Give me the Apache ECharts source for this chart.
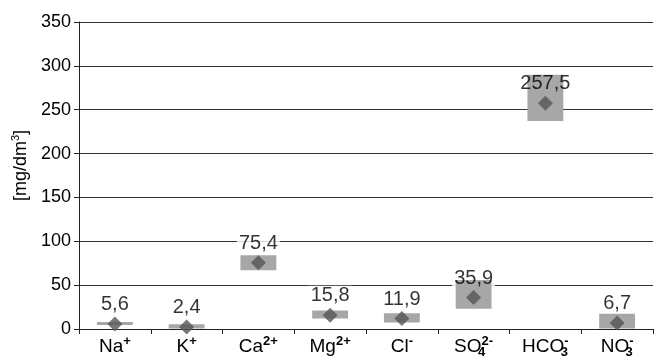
<!DOCTYPE html>
<html>
<head>
<meta charset="utf-8">
<script src="https://cdn.jsdelivr.net/npm/echarts@6/dist/echarts.min.js"></script>
<style>
  html, body { margin: 0; padding: 0; background: #fff; }
  #chart { width: 654px; height: 361px; }
</style>
</head>
<body>
<div id="chart"></div>
<script>
// Ion symbols: element part, subscript index, charge
const ionBase = ['Na', 'K', 'Ca', 'Mg', 'Cl', 'SO', 'HCO', 'NO'];
const ionIndex = ['', '', '', '', '', '4', '3', '3'];
const ionCharge = ['+', '+', '2+', '2+', '-', '2-', '-', '-'];

// Mean concentration [mg/dm3]
const meanValues = [5.6, 2.4, 75.4, 15.8, 11.9, 35.9, 257.5, 6.7];
// Observed range: minimum and maximum [mg/dm3]
const minValues = [4.5, 0.5, 67, 12, 7.5, 23, 237, 0.5];
const maxValues = [8, 5.5, 84, 21, 18, 56, 290, 17.5];

// Value axis scale
const yMin = 0;
const yMax = 350;
const yStep = 50;

const categories = ionBase.map((b, i) => b + ionIndex[i] + ionCharge[i]);
const fmtNum = v => String(v).replace('.', ',');

const FONT = '"Liberation Sans", Arial, sans-serif';
const BOX_COLOR = '#a7a7aa';
const MARK_COLOR = '#555555';

const labelCommon = {
  show: true,
  position: 'top',
  distance: 2,
  fontFamily: FONT,
  fontSize: 20,
  formatter: p => fmtNum(p.value[1])
};

const chart = echarts.init(document.getElementById('chart'), null, { renderer: 'canvas' });

chart.setOption({
  animation: false,
  backgroundColor: '#fff',
  grid: { left: 79, right: 1, top: 22, bottom: 32, containLabel: false },
  xAxis: {
    type: 'category',
    data: categories,
    boundaryGap: true,
    axisLine: { show: true, lineStyle: { color: '#222', width: 1 } },
    axisTick: { show: true, length: 5, interval: 0, alignWithLabel: false, lineStyle: { color: '#222' } },
    splitLine: { show: false },
    axisLabel: {
      interval: 0,
      margin: 6,
      color: '#000',
      fontFamily: FONT,
      formatter: (value, idx) => {
        let s = '{b|' + ionBase[idx] + '}';
        if (ionIndex[idx]) s += '{sub|' + ionIndex[idx] + '}';
        s += '{sup|' + ionCharge[idx] + '}';
        return s;
      },
      rich: {
        b: { fontSize: 19, lineHeight: 24, fontFamily: FONT, color: '#000' },
        sup: { fontSize: 13, lineHeight: 12, verticalAlign: 'top', fontWeight: 'bold', fontFamily: FONT, color: '#000' },
        sub: { fontSize: 13, lineHeight: 12, verticalAlign: 'bottom', width: 0, padding: [3, 0, 0, 0], fontWeight: 'bold', fontFamily: FONT, color: '#000' }
      }
    }
  },
  yAxis: {
    type: 'value',
    min: yMin,
    max: yMax,
    interval: yStep,
    name: '{n|[mg/dm}{s|3}{n|]}',
    nameLocation: 'middle',
    nameGap: 40,
    nameTextStyle: {
      rich: {
        n: { fontSize: 18, lineHeight: 22, fontFamily: FONT, color: '#000' },
        s: { fontSize: 11, lineHeight: 11, verticalAlign: 'top', fontFamily: FONT, color: '#000' }
      },
      padding: [0, 0, 0, 20]
    },
    axisLine: { show: true, lineStyle: { color: '#222', width: 1 } },
    axisTick: { show: true, length: 5, lineStyle: { color: '#222' } },
    axisLabel: { margin: 8, color: '#000', fontSize: 18, fontFamily: FONT },
    splitLine: { show: true, lineStyle: { color: '#333', width: 1 } }
  },
  series: [
    {
      // white label backing that breaks the gridlines behind the value labels
      type: 'scatter',
      z: 1,
      symbol: 'diamond',
      symbolSize: 15,
      itemStyle: { color: 'rgba(0,0,0,0)' },
      silent: true,
      data: meanValues.map((v, i) => [i, v]),
      label: Object.assign({}, labelCommon, {
        color: 'rgba(0,0,0,0)',
        backgroundColor: '#fff',
        padding: [0, 2]
      })
    },
    {
      // min-max range box
      type: 'custom',
      z: 2,
      data: minValues.map((v, i) => [i, v, maxValues[i]]),
      encode: { x: 0, y: [1, 2] },
      renderItem: (params, api) => {
        const idx = api.value(0);
        const lo = api.coord([idx, api.value(1)]);
        const hi = api.coord([idx, api.value(2)]);
        const w = api.size([1, 0])[0] * 0.5;
        return {
          type: 'rect',
          shape: { x: lo[0] - w / 2, y: hi[1], width: w, height: lo[1] - hi[1] },
          style: { fill: BOX_COLOR }
        };
      }
    },
    {
      // mean value marker with its label
      type: 'scatter',
      z: 3,
      symbol: 'diamond',
      symbolSize: 15,
      itemStyle: { color: MARK_COLOR },
      data: meanValues.map((v, i) => [i, v]),
      label: Object.assign({}, labelCommon, { color: '#000' })
    }
  ]
});
</script>
</body>
</html>
